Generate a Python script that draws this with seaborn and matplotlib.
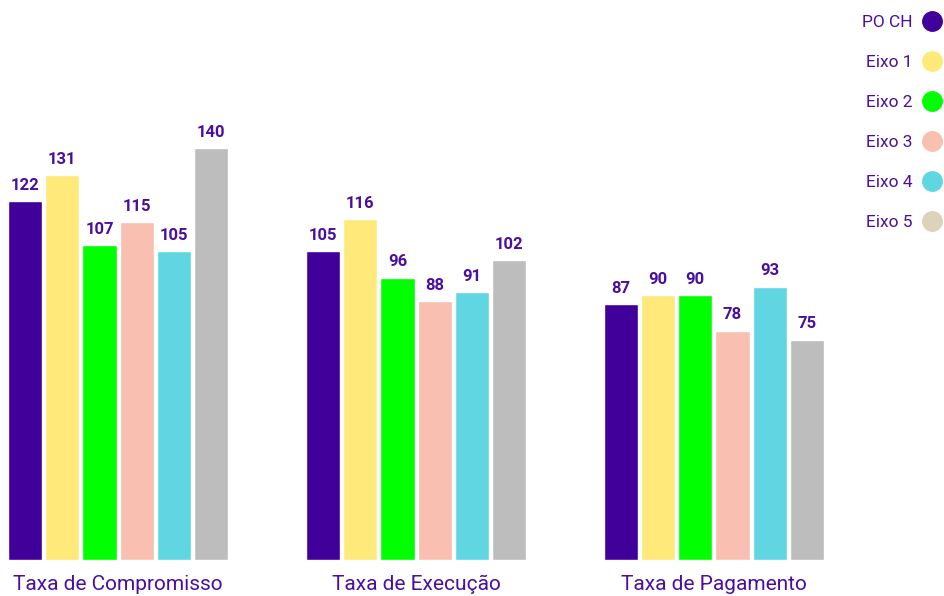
import matplotlib
matplotlib.use("Agg")
import matplotlib.pyplot as plt
from matplotlib.lines import Line2D
import pandas as pd
import seaborn as sns

CATEGORIES = ["Taxa de Compromisso", "Taxa de Execução", "Taxa de Pagamento"]
SERIES = ["PO CH", "Eixo 1", "Eixo 2", "Eixo 3", "Eixo 4", "Eixo 5"]
PO_CH = [122, 105, 87]
EIXO_1 = [131, 116, 90]
EIXO_2 = [107, 96, 90]
EIXO_3 = [115, 88, 78]
EIXO_4 = [105, 91, 93]
EIXO_5 = [140, 102, 75]

BAR_COLORS = ["#41009a", "#ffe97a", "#00ff00", "#f9c0b2", "#60d6e3", "#bdbdbd"]
LEGEND_COLORS = ["#41009a", "#ffe97a", "#00ff00", "#f9c0b2", "#60d6e3", "#ddd3bb"]
TEXT_COLOR = "#4a0fa0"

values = [PO_CH, EIXO_1, EIXO_2, EIXO_3, EIXO_4, EIXO_5]
rows = []
for name, vals in zip(SERIES, values):
    for cat, v in zip(CATEGORIES, vals):
        rows.append({"categoria": cat, "serie": name, "valor": v})
df = pd.DataFrame(rows)

sns.set_style("white")
plt.rcParams["font.family"] = ["Roboto", "DejaVu Sans"]

fig = plt.figure(figsize=(9.44, 5.96), dpi=100)
ax = fig.add_axes([8 / 944, 36 / 596, 822 / 944, 441 / 596])

sns.barplot(
    data=df, x="categoria", y="valor", hue="serie",
    order=CATEGORIES, hue_order=SERIES, palette=BAR_COLORS,
    width=0.75, gap=0.08, ax=ax, legend=False, saturation=1,
)

for cont in ax.containers:
    ax.bar_label(cont, fmt="%d", padding=6, fontsize=12, fontweight="bold",
                 color=TEXT_COLOR)

ax.set_xlim(-0.37, 2.39)
ax.set_ylim(0, 150)
ax.set_xlabel("")
ax.set_ylabel("")
ax.set_yticks([])
ax.tick_params(axis="x", length=0, pad=11, labelsize=15, labelcolor=TEXT_COLOR)
sns.despine(ax=ax, left=True, bottom=True)

handles = [Line2D([], [], marker="o", linestyle="", markersize=14,
                  markerfacecolor=c, markeredgecolor=c) for c in LEGEND_COLORS]
leg = fig.legend(handles, SERIES, loc="upper right", bbox_to_anchor=(1.006, 0.984),
                 frameon=False, markerfirst=False, fontsize=12.5,
                 labelspacing=1.43, handletextpad=0.45, handlelength=1.4,
                 borderaxespad=0.0, borderpad=0.3)
for t in leg.get_texts():
    t.set_color(TEXT_COLOR)

fig.savefig("out.png", dpi=100)
